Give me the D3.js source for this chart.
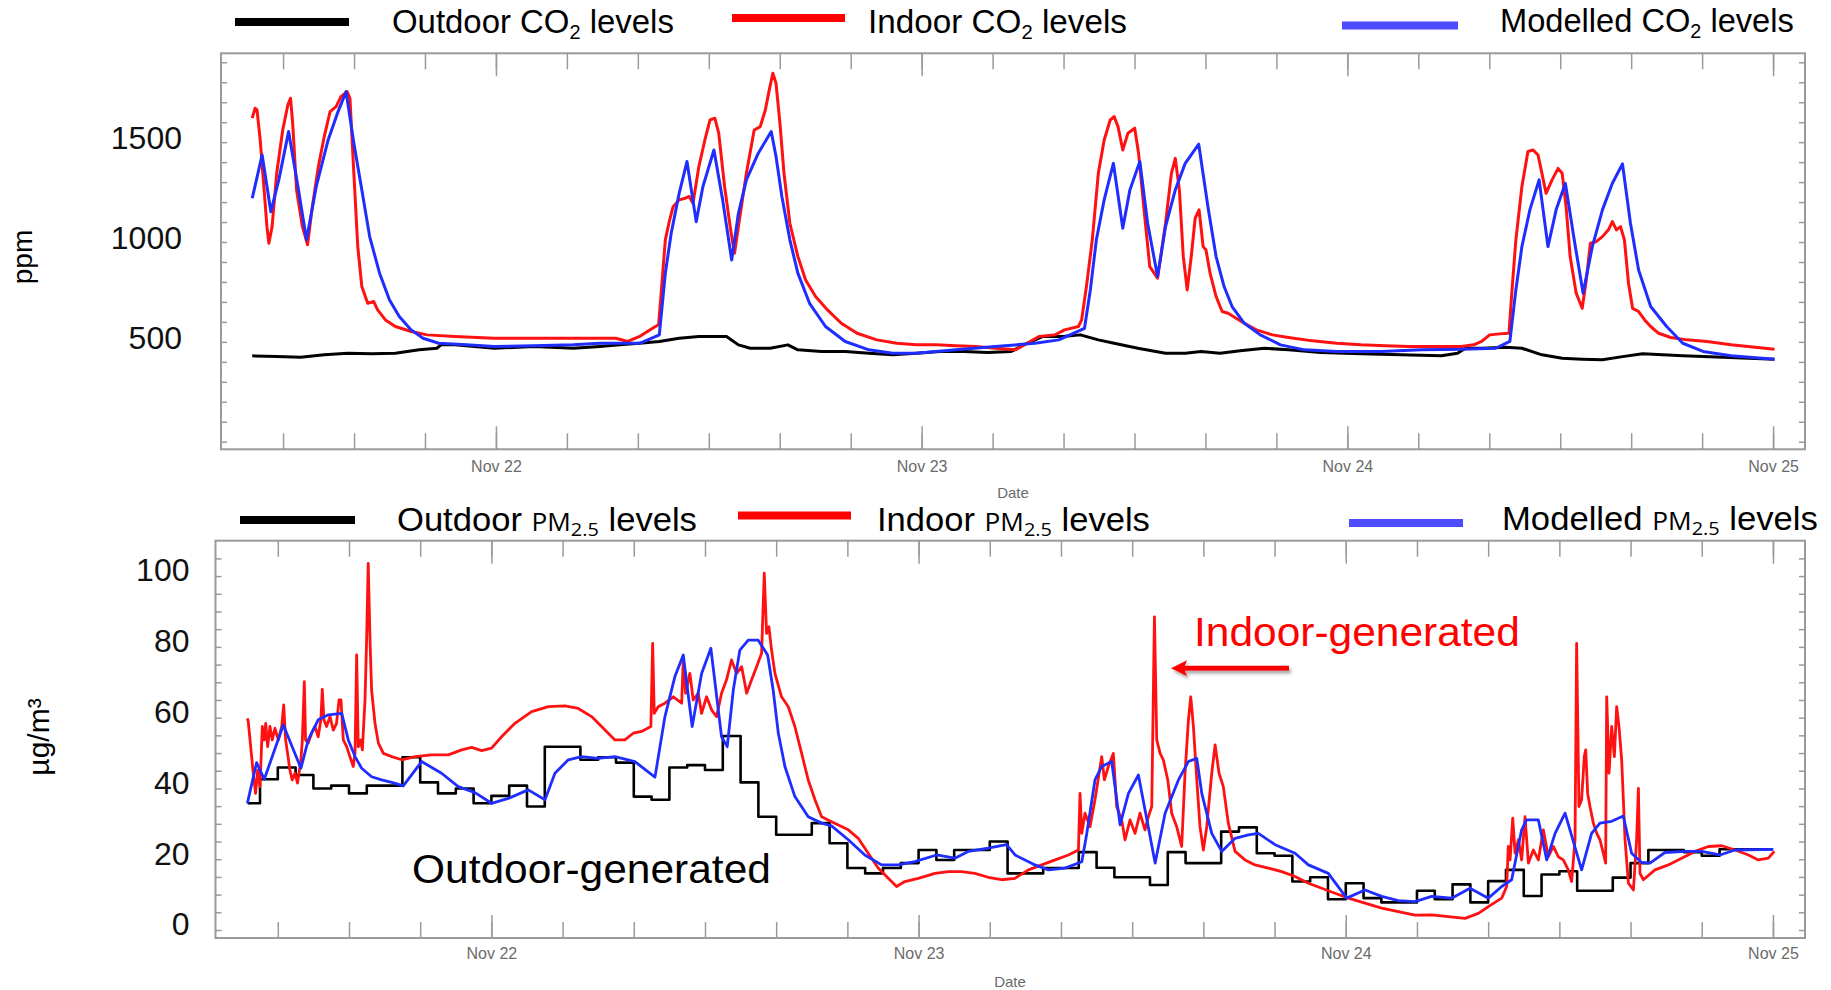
<!DOCTYPE html>
<html>
<head>
<meta charset="utf-8">
<script src="https://cdn.jsdelivr.net/npm/d3@7"></script>
<style>
  body { margin: 0; background: #fff; }
  svg { display: block; font-family: "Liberation Sans", Arial, sans-serif; }
</style>
</head>
<body>
<svg id="chart"></svg>
<script>
// all times are hours after Nov 21 00:00

// CO2 (ppm), [hour, value]
const co2Outdoor = [[10.26,430],[11.64,427],[12.98,423],[14.32,435],[15.66,443],[16.99,440],[18.33,443],[19.67,460],[20.67,468],[20.9,485],[21.68,485],[23.9,468],[26.13,477],[28.36,468],
  [29.87,477],[30.98,485],[32.1,493],[33.21,502],[34.33,518],[35.44,527],[37.0,527],[37.67,485],[38.34,468],[39.46,468],[40.46,485],[41.02,460],[42.35,452],[43.69,452],[45.03,443],[46.37,435],[47.7,443],[49.04,452],[50.38,452],[51.72,447],[53.05,452],[53.95,493],[54.84,527],[55.95,527],[56.95,535],[57.96,510],[58.85,493],[60.19,468],[61.75,443],[62.86,443],[63.75,452],
  [64.82,443],[65.96,456],[67.32,468],[68.68,460],[70.5,447],[72.76,440],[75.03,435],[77.3,430],[78.21,443],[78.66,468],[79.57,468],[80.93,473],[81.84,468],[82.97,435],[84.11,418],[85.24,413],[86.38,410],[87.51,426],[88.64,440],[89.78,435],[90.91,430],[93.18,423],[96.08,413]];

const co2Indoor = [[10.26,1620],[10.42,1670],[10.53,1662],[10.71,1511],[10.93,1261],[11.09,1077],[11.2,994],[11.38,1077],[11.64,1344],[11.98,1561],[12.27,1687],[12.42,1720],[12.54,1595],[12.76,1261],[13.09,1077],[13.38,986],[13.65,1177],[13.99,1378],[14.32,1528],[14.65,1653],[14.99,1678],[15.26,1728],[15.61,1753],[15.77,1720],[15.99,1344],[16.21,977],[16.44,777],[16.77,693],[17.11,702],[17.33,660],[17.77,610],[18.33,577],[19.22,552],[20.12,535],[21.68,527],[23.9,518],[26.13,518],[28.36,518],
  [29.87,518],[30.76,518],[31.43,502],[32.1,527],[32.54,552],[32.99,577],[33.17,585],[33.33,760],[33.55,1011],[33.77,1102],[33.99,1177],[34.33,1211],[34.66,1219],[34.89,1228],[35.11,1194],[35.44,1378],[35.78,1511],[36.07,1611],[36.34,1620],[36.56,1545],[36.89,1278],[37.23,1061],[37.45,944],[37.67,1077],[38.12,1344],[38.56,1561],[38.9,1578],[39.19,1662],[39.41,1762],[39.61,1845],[39.79,1795],[40.01,1595],[40.24,1344],[40.57,1094],[41.02,928],[41.46,810],[42.02,727],[42.69,660],[43.47,593],[44.36,543],[45.47,510],[46.59,493],[47.7,485],[48.82,485],[49.93,480],[51.05,477],[52.16,468],[53.28,460],[53.95,493],[54.61,527],[55.51,535],[56.06,560],[56.84,577],[57.02,610],[57.29,777],[57.62,1011],[57.96,1344],[58.29,1511],[58.63,1611],[58.85,1628],[59.07,1578],[59.34,1461],[59.63,1545],[60.01,1570],[60.23,1445],[60.52,1177],[60.86,877],[61.3,819],[61.75,1094],[62.08,1344],[62.3,1419],[62.53,1261],[62.75,928],[62.97,760],[63.2,928],[63.42,1119],[63.64,1161],
  [63.87,977],[64.03,960],[64.26,844],[64.6,727],[64.94,652],[65.28,643],[65.73,618],[66.19,593],[66.87,560],[67.77,535],[68.68,522],[70.04,505],[71.4,493],[72.76,485],[74.13,480],[75.49,477],[77.3,477],[78.44,477],[79.12,485],[79.57,502],[80.02,535],[80.59,540],[81.11,543],[81.27,744],[81.5,1011],[81.84,1278],[82.18,1453],[82.47,1461],[82.75,1436],[82.97,1344],[83.2,1244],[83.54,1311],[83.88,1369],[84.11,1344],[84.33,1177],[84.56,927],[84.9,744],[85.24,668],[85.47,810],[85.7,994],[86.03,1002],[86.38,1027],[86.72,1061],[86.94,1102],[87.17,1061],[87.4,1077],[87.62,1011],[87.85,794],[88.08,668],[88.42,652],[88.76,610],[89.1,577],[89.55,543],[90.23,522],[91.14,510],[92.27,502],[93.63,485],[95.0,473],[96.08,463]];

const co2Model = [[10.26,1219],[10.82,1436],[11.31,1152],[11.76,1311],[12.31,1553],[12.87,1261],[13.32,1011],[13.87,1278],[14.54,1511],[15.1,1653],[15.55,1753],[15.99,1495],[16.44,1261],[16.88,1027],[17.44,844],[18.0,710],[18.55,627],[19.22,560],[19.89,518],[20.78,493],[22.34,485],[23.9,477],[26.13,480],[28.36,485],
  [29.87,493],[32.1,493],[33.21,535],[33.55,844],[33.88,1044],[34.33,1244],[34.77,1403],[35.29,1102],[35.67,1278],[36.29,1461],[36.78,1211],[37.29,910],[37.67,1144],[38.12,1311],[38.79,1445],[39.52,1553],[39.79,1428],[40.12,1228],[40.57,1011],[41.02,844],[41.68,693],[42.58,577],[43.69,502],[45.03,460],[46.37,443],[47.7,443],[49.93,460],[52.16,477],[54.39,493],[55.73,510],[57.18,568],[57.51,760],[57.85,1011],[58.29,1211],[58.81,1394],[59.34,1069],[59.74,1261],[60.3,1403],[60.74,1094],[61.3,827],[61.75,1077],[62.3,1261],[62.86,1394],[63.62,1490],
  [64.14,1177],[64.6,927],[65.05,777],[65.5,677],[66.19,593],[67.09,535],[68.23,485],[69.59,460],[71.4,452],[73.9,452],[76.17,460],[78.44,463],[80.36,468],[81.16,502],[81.5,760],[81.84,977],[82.29,1161],[82.81,1311],[83.31,977],[83.77,1161],[84.29,1294],[84.79,1011],[85.29,744],[85.81,977],[86.38,1161],[86.94,1294],[87.51,1391],[87.96,1094],[88.42,860],[89.1,677],[90.0,577],[90.91,493],[92.05,452],[93.63,430],[96.08,413]];

// PM2.5 (ug/m3)
// outdoor: hourly values, first reading at 10.3 h, hours 10..95
const pmOutdoorStart = 10.3;
const pmOutdoorHourly = [35.8,42.6,45.9,43.8,40.0,40.8,38.6,40.8,40.8,48.8,41.7,38.6,40.0,35.8,37.9,40.8,34.9,51.8,51.8,48.1,
  48.8,47.3,37.7,36.8,45.9,46.6,45.2,54.8,41.7,32.0,26.9,26.9,30.2,24.5,17.5,16.0,17.5,18.9,22.6,19.8,
  22.6,22.6,25.0,16.0,16.0,17.5,17.5,22.0,17.6,14.9,14.9,12.7,22.0,18.9,18.9,27.8,29.0,21.7,21.0,13.7,
  14.9,8.7,13.2,9.0,7.8,7.8,11.1,8.7,12.9,7.8,13.8,17.0,9.6,15.7,16.6,11.1,11.1,14.8,18.9,22.6,
  22.6,22.0,21.0,22.8,22.8,22.8];
const pmOutdoorEnd = 96.0;

const pmIndoor = [[10.29,59.8],[10.34,58.9],[10.44,53.7],[10.62,44.3],[10.75,38.6],[10.87,45.2],[11.0,40.5],[11.13,57.5],[11.24,53.7],[11.32,58.4],[11.43,51.8],[11.56,57.5],[11.69,53.7],[11.84,57.0],[12.03,53.7],[12.22,57.5],[12.33,63.6],[12.44,53.7],[12.55,49.9],[12.68,45.2],[12.81,42.4],[12.96,44.3],[13.11,41.5],[13.3,48.1],[13.38,53.7],[13.49,70.2],[13.56,53.7],[13.71,52.8],[13.9,55.6],[14.09,57.5],[14.27,54.6],[14.42,59.4],[14.5,68.0],[14.59,59.4],[14.74,57.5],[14.93,60.3],[15.12,56.5],[15.3,58.4],[15.44,65.0],[15.55,65.0],[15.68,53.7],[15.87,51.8],[16.05,49.0],[16.24,46.2],[16.34,50.0],[16.43,77.7],[16.52,51.8],[16.65,53.7],[16.75,50.9],[16.9,65.0],[16.99,82.0],[17.08,103.6],[17.18,82.0],[17.27,67.8],[17.46,58.4],[17.65,52.8],[17.93,49.9],[18.4,49.0],[18.96,48.1],[19.71,49.0],[20.64,49.5],[21.58,49.5],[22.33,50.9],[22.89,51.6],[23.45,50.7],[24.01,51.4],[24.57,54.6],[25.32,58.4],[26.26,61.7],[27.2,63.1],[28.13,63.3],[28.88,62.6],[29.63,60.3],[30.19,57.5],[30.94,53.7],
  [31.5,53.7],[31.97,55.6],[32.44,56.1],[32.96,57.5],[33.06,81.0],[33.15,61.2],[33.37,63.1],[33.75,64.1],[34.22,65.9],[34.69,64.1],[34.78,76.3],[34.91,66.9],[35.15,72.5],[35.34,65.0],[35.62,66.9],[35.81,61.2],[36.09,65.9],[36.37,62.2],[36.65,60.3],[36.93,66.9],[37.21,70.7],[37.49,76.3],[37.78,72.5],[38.06,74.4],[38.34,66.9],[38.62,70.7],[38.9,74.4],[39.18,78.2],[39.33,100.8],[39.46,83.8],[39.59,85.7],[39.74,79.1],[39.93,72.5],[40.3,65.9],[40.68,63.1],[41.05,57.5],[41.43,49.9],[41.8,42.4],[42.18,36.8],[42.55,32.0],[43.11,30.6],[44.05,28.3],[44.61,25.9],[45.17,21.7],[45.73,17.5],[46.2,15.1],[46.76,12.3],[47.23,13.7],[47.98,14.6],[48.92,16.0],[49.67,16.5],[50.42,16.5],[51.16,16.0],[51.91,14.9],[52.66,14.2],[53.41,14.6],
  [54.17,17.0],[54.92,18.4],[55.67,19.8],[56.42,21.2],[56.98,22.6],[57.07,38.6],[57.17,27.3],[57.35,33.0],[57.63,29.2],[57.91,36.8],[58.29,49.0],[58.44,42.4],[58.66,46.2],[58.94,49.9],[59.13,34.9],[59.41,31.1],[59.6,25.5],[59.88,31.1],[60.16,27.3],[60.44,33.0],[60.72,28.3],[60.91,32.0],[61.1,34.9],[61.25,88.5],[61.38,53.7],[61.57,49.9],[61.75,48.1],[62.0,42.4],[62.22,33.0],[62.5,29.2],[62.78,23.6],[62.97,44.3],[63.16,59.4],[63.29,65.9],[63.44,57.5],[63.63,42.4],[63.81,29.2],[64.0,22.6],[64.19,29.2],[64.47,44.3],[64.66,52.3],[64.88,44.3],[65.12,40.5],[65.4,30.2],[65.78,22.2],[66.34,19.8],[66.9,18.4],[67.65,17.5],[68.4,16.5],[69.15,15.1],[69.9,13.2],[70.65,11.8],[71.4,10.4],[72.15,9.0],[73.08,7.6],[74.02,6.2],[74.95,5.2],[75.89,4.2],
  [76.83,4.3],[77.76,3.8],[78.7,3.3],[79.45,4.7],[80.01,6.6],[80.76,9.0],[81.04,12.3],[81.13,23.6],[81.23,19.8],[81.38,31.6],[81.51,21.7],[81.7,25.5],[81.88,19.8],[82.07,32.0],[82.26,18.9],[82.54,22.6],[82.82,19.8],[83.1,28.3],[83.38,20.7],[83.66,23.6],[83.94,20.7],[84.22,19.8],[84.5,17.0],[84.69,13.7],[84.88,25.5],[84.97,81.0],[85.1,34.9],[85.25,36.8],[85.4,49.0],[85.48,50.9],[85.59,38.6],[85.72,34.9],[85.91,30.2],[86.1,27.3],[86.28,25.5],[86.47,21.7],[86.6,18.9],[86.66,65.9],[86.79,44.3],[86.94,57.5],[87.09,49.0],[87.22,63.1],[87.35,57.5],[87.5,48.1],[87.69,25.5],[87.88,13.2],[88.16,11.3],[88.34,25.5],[88.44,40.0],[88.53,16.0],[88.72,14.2],[89.37,17.0],[90.12,18.4],[90.87,20.3],[91.62,22.2],[92.37,23.6],[93.12,23.8],[93.87,22.6],[94.62,21.2],[95.18,19.8],[95.74,20.3],[96.08,22.2]];

const pmModel = [[10.29,35.8],[10.81,47.3],[11.24,42.6],[12.31,57.9],[13.3,45.7],[13.71,53.7],[14.27,59.4],[14.84,60.8],[15.59,61.2],[15.96,53.7],[16.34,49.0],[16.71,45.7],[17.27,43.3],[17.83,42.4],[18.4,41.7],[19.05,40.7],[20.08,47.6],[21.2,44.3],[22.14,40.5],[23.08,38.8],[24.01,35.8],[24.95,37.2],[26.07,39.6],[27.01,36.8],[27.57,44.3],[28.32,48.1],[29.07,49.0],[30.0,48.5],
  [30.94,49.0],[32.06,47.6],[33.19,43.2],[33.75,60.3],[34.31,71.6],[34.78,77.7],[35.28,57.5],[35.81,72.5],[36.33,79.6],[36.93,54.6],[37.25,51.8],[37.59,67.8],[37.96,79.1],[38.43,81.9],[38.99,81.9],[39.52,77.7],[39.83,67.8],[40.12,55.6],[40.49,46.2],[41.05,37.7],[41.8,32.0],[42.55,30.2],[43.11,29.4],[44.05,25.5],[44.98,21.2],[45.92,18.4],[46.86,18.4],[47.79,19.3],[49.01,21.2],[50.04,20.3],[50.79,22.2],[51.91,23.1],[52.94,24.1],
  [53.42,21.2],[54.54,18.4],[55.29,17.0],[56.23,17.5],[57.17,19.3],[57.45,27.3],[57.91,42.4],[58.29,46.2],[58.85,47.6],[59.32,29.7],[59.79,38.6],[60.35,43.8],[61.29,18.9],[61.85,33.0],[62.6,42.4],[63.16,47.6],[63.63,48.5],[63.91,38.6],[64.47,27.3],[65.03,22.2],[65.78,25.9],[66.53,26.9],[67.09,27.3],[68.03,24.1],[69.15,21.7],[69.9,18.4],[71.02,16.0],[72.05,9.0],[73.08,11.3],[74.02,9.5],[74.95,8.3],[75.89,8.0],
  [76.83,9.5],[77.95,9.0],[78.98,11.8],[80.01,9.0],[80.76,12.3],[81.32,14.2],[81.88,28.3],[82.16,31.1],[82.82,31.1],[83.29,19.8],[83.76,27.3],[84.32,33.0],[85.25,17.0],[85.81,27.3],[86.28,30.2],[86.94,30.7],[87.59,32.2],[88.06,21.7],[88.62,19.1],[89.09,18.9],[89.93,21.9],[91.06,22.2],[91.99,22.2],[93.02,21.2],[93.87,22.6],[96.02,22.8]];

// axis ticks
const co2Ticks = d3.range(0, 2000, 100);
const co2Labels = [500, 1000, 1500];
const pmTicks = d3.range(0, 110, 5);
const pmLabels = [0, 20, 40, 60, 80, 100];

// colours
const cBlack = "#000000";
const cRed = "#ff1111";
const cBlue = "#1f2dff";
const cBlueKey = "#4d4dff";

const t0 = Date.UTC(2016, 10, 21);
const hr = h => new Date(t0 + h * 3600e3);
const xDomain = [hr(8.5), hr(97.8)];

let svg = d3.select("#chart")
    .attr("width", 1831)
    .attr("height", 990);

// arrow shadow
let defs = svg.append("defs");
defs.append("filter").attr("id", "shadow")
    .attr("x", "-20%").attr("y", "-100%").attr("width", "140%").attr("height", "300%")
  .append("feDropShadow")
    .attr("dx", 2).attr("dy", 3).attr("stdDeviation", 1.5)
    .attr("flood-color", "#777").attr("flood-opacity", 0.6);

function styleTicks(a) {
    a.select(".domain").remove();
    a.selectAll(".tick line").attr("stroke", "#9a9a9a").attr("stroke-width", 1.5);
}

function drawPanel(p) {
    let x = d3.scaleUtc().domain(xDomain).range([p.left, p.right]);
    let y = d3.scaleLinear().domain(p.yDomain).range([p.bottom, p.top]);
    let g = svg.append("g");

    let minor = x.ticks(d3.utcHour.every(4));
    let major = x.ticks(d3.utcDay.every(1));

    // x ticks on bottom and top edges, pointing inwards
    g.append("g").attr("transform", `translate(0,${p.bottom})`)
        .call(d3.axisBottom(x).tickValues(minor).tickSize(-16).tickSizeOuter(0).tickFormat(""))
        .call(styleTicks);
    g.append("g").attr("transform", `translate(0,${p.top})`)
        .call(d3.axisTop(x).tickValues(minor).tickSize(-16).tickSizeOuter(0).tickFormat(""))
        .call(styleTicks);
    let xb = g.append("g").attr("transform", `translate(0,${p.bottom})`)
        .call(d3.axisBottom(x).tickValues(major).tickSize(-23).tickSizeOuter(0)
            .tickPadding(p.xPad).tickFormat(d3.utcFormat("%b %d")))
        .call(styleTicks);
    xb.selectAll("text")
        .attr("font-size", 16).attr("fill", "#6b6b6b")
        .attr("font-family", "Liberation Sans, Arial, sans-serif");
    g.append("g").attr("transform", `translate(0,${p.top})`)
        .call(d3.axisTop(x).tickValues(major).tickSize(-23).tickSizeOuter(0).tickFormat(""))
        .call(styleTicks);

    // y ticks on left and right edges
    g.append("g").attr("transform", `translate(${p.left},0)`)
        .call(d3.axisLeft(y).tickValues(p.yTicks).tickSize(-6).tickSizeOuter(0).tickFormat(""))
        .call(styleTicks);
    g.append("g").attr("transform", `translate(${p.right},0)`)
        .call(d3.axisRight(y).tickValues(p.yTicks).tickSize(-6).tickSizeOuter(0).tickFormat(""))
        .call(styleTicks);
    let yl = g.append("g").attr("transform", `translate(${p.left},0)`)
        .call(d3.axisLeft(y).tickValues(p.yLabels).tickSize(0).tickPadding(p.yPad)
            .tickFormat(d3.format("d")));
    yl.select(".domain").remove();
    yl.selectAll("text")
        .attr("font-size", 32).attr("fill", "#111").attr("dy", p.yDy)
        .attr("font-family", "Liberation Sans, Arial, sans-serif");

    // frame
    g.append("rect")
        .attr("x", p.left).attr("y", p.top)
        .attr("width", p.right - p.left).attr("height", p.bottom - p.top)
        .attr("fill", "none").attr("stroke", "#9a9a9a").attr("stroke-width", 2);

    // date title
    g.append("text")
        .attr("x", p.dateX).attr("y", p.dateY)
        .attr("text-anchor", "middle")
        .attr("font-size", 15).attr("fill", "#6b6b6b")
        .text("Date");

    // series
    p.series.forEach(s => {
        let line = d3.line()
            .x(d => x(hr(d[0])))
            .y(d => y(d[1]))
            .curve(s.curve || d3.curveLinear);
        g.append("path")
            .datum(s.data)
            .attr("d", line)
            .attr("fill", "none")
            .attr("stroke", s.color)
            .attr("stroke-width", s.width)
            .attr("stroke-linejoin", "round");
    });
    return { x, y };
}

// outdoor PM as step data
let pmOutdoor = pmOutdoorHourly.map((v, i) => [i === 0 ? pmOutdoorStart : 10 + i, v]);
pmOutdoor.push([pmOutdoorEnd, pmOutdoorHourly[pmOutdoorHourly.length - 1]]);

drawPanel({
    left: 221, right: 1805, top: 53.3, bottom: 449.3,
    yDomain: [-38, 1945], yTicks: co2Ticks, yLabels: co2Labels,
    yPad: 39, yDy: "0.2em", xPad: 11,
    dateX: 1013, dateY: 498,
    series: [
        { data: co2Outdoor, color: cBlack, width: 3 },
        { data: co2Indoor, color: cRed, width: 3 },
        { data: co2Model, color: cBlue, width: 3 }
    ]
});

drawPanel({
    left: 215.5, right: 1805, top: 540.7, bottom: 938,
    yDomain: [-2.26, 110], yTicks: pmTicks, yLabels: pmLabels,
    yPad: 26, yDy: "0.15em", xPad: 10,
    dateX: 1010, dateY: 986.5,
    series: [
        { data: pmOutdoor, color: cBlack, width: 2.6, curve: d3.curveStepAfter },
        { data: pmIndoor, color: cRed, width: 2.8 },
        { data: pmModel, color: cBlue, width: 2.8 }
    ]
});

// y axis titles
svg.append("text")
    .attr("transform", "translate(32,257) rotate(-90)")
    .attr("text-anchor", "middle")
    .attr("font-size", 28)
    .text("ppm");
svg.append("text")
    .attr("transform", "translate(49,737) rotate(-90)")
    .attr("text-anchor", "middle")
    .attr("font-size", 30)
    .text("µg/m³");

// stretch a text element so that it spans the given width
function fitWidth(t, x0, w) {
    let bw = t.node().getBBox().width;
    t.attr("transform", `translate(${x0},0) scale(${w / bw},1) translate(${-x0},0)`);
}

// legend entries
function legendItem(k) {
    svg.append("line")
        .attr("x1", k.x1).attr("x2", k.x2)
        .attr("y1", k.ly).attr("y2", k.ly)
        .attr("stroke", k.color).attr("stroke-width", 8);
    let t = svg.append("text")
        .attr("x", k.tx).attr("y", k.ty)
        .attr("font-size", 33).attr("fill", "#000");
    if (k.pm) {
        t.append("tspan").text(k.name + " ");
        t.append("tspan").attr("font-family", "Open Sans, sans-serif").attr("font-size", 25).text("PM");
        t.append("tspan").attr("font-family", "Open Sans, sans-serif").attr("font-size", 19).attr("dy", 5).text("2.5");
        t.append("tspan").attr("dy", -5).text(" levels");
    } else {
        t.append("tspan").text(k.name + " CO");
        t.append("tspan").attr("font-size", 20).attr("dy", 6).text("2");
        t.append("tspan").attr("dy", -6).text(" levels");
    }
    fitWidth(t, k.tx, k.tw);
}

const legendNames = ["Outdoor", "Indoor", "Modelled"];

legendItem({ name: legendNames[0], x1: 235, x2: 349, ly: 22, color: cBlack, tx: 392, ty: 33, tw: 282 });
legendItem({ name: legendNames[1], x1: 732, x2: 845, ly: 18, color: "#ff0000", tx: 868, ty: 33, tw: 259 });
legendItem({ name: legendNames[2], x1: 1342, x2: 1458, ly: 25.5, color: cBlueKey, tx: 1500, ty: 32, tw: 294 });

legendItem({ pm: true, name: legendNames[0], x1: 240, x2: 355, ly: 520, color: cBlack, tx: 397, ty: 531.5, tw: 300 });
legendItem({ pm: true, name: legendNames[1], x1: 738, x2: 851, ly: 515.5, color: "#ff0000", tx: 877, ty: 531.5, tw: 273 });
legendItem({ pm: true, name: legendNames[2], x1: 1349, x2: 1463, ly: 523, color: cBlueKey, tx: 1502, ty: 530.5, tw: 316 });

// annotations
let outTxt = svg.append("text")
    .attr("x", 412).attr("y", 883)
    .attr("font-size", 40).attr("fill", "#000")
    .text("Outdoor-generated");
fitWidth(outTxt, 412, 359);

let inTxt = svg.append("text")
    .attr("x", 1194).attr("y", 646.5)
    .attr("font-size", 40).attr("fill", "#ff0000")
    .text("Indoor-generated");
fitWidth(inTxt, 1194, 326);

let arrow = svg.append("g").attr("filter", "url(#shadow)");
arrow.append("line")
    .attr("x1", 1289).attr("x2", 1183)
    .attr("y1", 668.3).attr("y2", 668.3)
    .attr("stroke", "#ff0000").attr("stroke-width", 5);
arrow.append("path")
    .attr("d", "M1171,668.3 L1187,660.3 L1184,668.3 L1187,676.3 Z")
    .attr("fill", "#ff0000");
</script>
</body>
</html>
